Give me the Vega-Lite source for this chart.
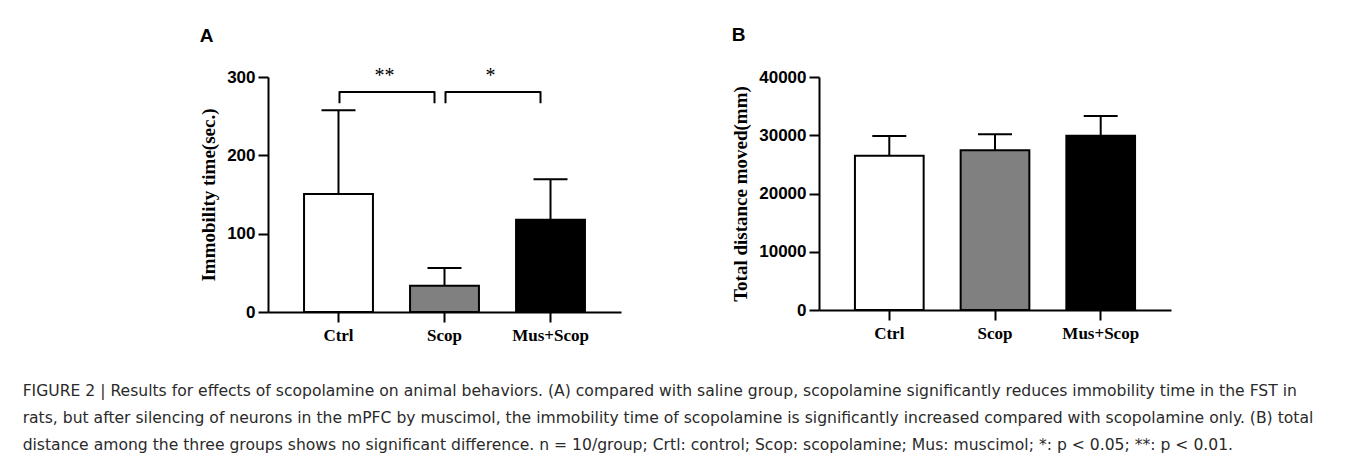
{
  "$schema": "https://vega.github.io/schema/vega-lite/v6.json",
  "background": "white",
  "padding": {"left": 22, "top": 26, "right": 5, "bottom": 5},
  "title": {
    "text": [
      "FIGURE 2 | Results for effects of scopolamine on animal behaviors. (A) compared with saline group, scopolamine significantly reduces immobility time in the FST in",
      "rats, but after silencing of neurons in the mPFC by muscimol, the immobility time of scopolamine is significantly increased compared with scopolamine only. (B) total",
      "distance among the three groups shows no significant difference. n = 10/group; Crtl: control; Scop: scopolamine; Mus: muscimol; *: p < 0.05; **: p < 0.01."
    ],
    "orient": "bottom",
    "anchor": "start",
    "frame": "bounds",
    "dx": -177,
    "offset": 41,
    "font": "DejaVu Sans",
    "fontSize": 15.6,
    "fontWeight": "normal",
    "lineHeight": 27,
    "color": "#2a2a2a"
  },
  "spacing": 110,
  "hconcat": [
    {
      "width": 353,
      "height": 235,
      "title": {"text": "A", "anchor": "start", "frame": "bounds", "font": "Liberation Sans", "fontSize": 19, "fontWeight": "bold", "offset": 20, "color": "black"},
      "layer": [
        {
          "data": {"values": [
            {"group": "Ctrl", "mean": 150.6, "upper": 257.5},
            {"group": "Scop", "mean": 33.6, "upper": 56.2},
            {"group": "Mus+Scop", "mean": 117.8, "upper": 169.4}
          ]},
          "layer": [
            {
              "mark": {"type": "bar", "stroke": "black", "strokeWidth": 2},
              "encoding": {
                "x": {"field": "group", "type": "nominal", "scale": {"domain": ["Ctrl", "Scop", "Mus+Scop"], "paddingInner": 0.35, "paddingOuter": 0.34}, "axis": {"title": null}},
                "y": {"field": "mean", "type": "quantitative", "scale": {"domain": [0, 300], "nice": false}, "title": "Immobility time(sec.)", "axis": {"values": [0, 100, 200, 300]}},
                "fill": {"field": "group", "type": "nominal", "scale": {"domain": ["Ctrl", "Scop", "Mus+Scop"], "range": ["#ffffff", "#808080", "#000000"]}, "legend": null}
              }
            },
            {
              "mark": {"type": "rule", "strokeWidth": 2, "color": "black"},
              "encoding": {
                "x": {"field": "group", "type": "nominal"},
                "y": {"field": "mean", "type": "quantitative", "title": "Immobility time(sec.)"},
                "y2": {"field": "upper"}
              }
            },
            {
              "mark": {"type": "tick", "orient": "horizontal", "size": 34, "thickness": 2, "color": "black", "opacity": 1},
              "encoding": {
                "x": {"field": "group", "type": "nominal"},
                "y": {"field": "upper", "type": "quantitative", "title": "Immobility time(sec.)"}
              }
            }
          ]
        },
        {
          "data": {"values": [
            {"from": "Ctrl", "to": "Scop", "label": "**"},
            {"from": "Scop", "to": "Mus+Scop", "label": "*"}
          ]},
          "layer": [
            {
              "mark": {"type": "rule", "strokeWidth": 2, "color": "black", "xOffset": 1, "x2Offset": -10},
              "encoding": {
                "x": {"field": "from", "type": "nominal"},
                "x2": {"field": "to"},
                "y": {"datum": 281, "type": "quantitative", "title": "Immobility time(sec.)"}
              }
            },
            {
              "mark": {"type": "rule", "strokeWidth": 2, "color": "black", "xOffset": 1},
              "encoding": {
                "x": {"field": "from", "type": "nominal"},
                "y": {"datum": 266.5, "type": "quantitative", "title": "Immobility time(sec.)"},
                "y2": {"datum": 281.8}
              }
            },
            {
              "mark": {"type": "rule", "strokeWidth": 2, "color": "black", "xOffset": -10},
              "encoding": {
                "x": {"field": "to", "type": "nominal"},
                "y": {"datum": 266.5, "type": "quantitative", "title": "Immobility time(sec.)"},
                "y2": {"datum": 281.8}
              }
            },
            {
              "mark": {"type": "text", "font": "Liberation Serif", "fontSize": 20, "baseline": "alphabetic", "align": "center", "xOffset": 46, "color": "black"},
              "encoding": {
                "x": {"field": "from", "type": "nominal"},
                "y": {"datum": 294, "type": "quantitative", "title": "Immobility time(sec.)"},
                "text": {"field": "label"}
              }
            }
          ]
        }
      ]
    },
    {
      "width": 352,
      "height": 233,
      "title": {"text": "B", "anchor": "start", "frame": "bounds", "font": "Liberation Sans", "fontSize": 19, "fontWeight": "bold", "offset": 23, "color": "black"},
      "data": {"values": [
        {"group": "Ctrl", "mean": 26490, "upper": 29870},
        {"group": "Scop", "mean": 27415, "upper": 30160},
        {"group": "Mus+Scop", "mean": 29925, "upper": 33305}
      ]},
      "encoding": {
        "x": {"field": "group", "type": "nominal", "scale": {"domain": ["Ctrl", "Scop", "Mus+Scop"], "paddingInner": 0.35, "paddingOuter": 0.34}, "axis": {"title": null}}
      },
      "layer": [
        {
          "mark": {"type": "bar", "stroke": "black", "strokeWidth": 2},
          "encoding": {
            "y": {"field": "mean", "type": "quantitative", "scale": {"domain": [0, 40000], "nice": false}, "title": "Total distance moved(mm)", "axis": {"values": [0, 10000, 20000, 30000, 40000], "format": "d"}},
            "fill": {"field": "group", "type": "nominal", "scale": {"domain": ["Ctrl", "Scop", "Mus+Scop"], "range": ["#ffffff", "#808080", "#000000"]}, "legend": null}
          }
        },
        {
          "mark": {"type": "rule", "strokeWidth": 2, "color": "black"},
          "encoding": {
            "y": {"field": "mean", "type": "quantitative", "title": "Total distance moved(mm)"},
            "y2": {"field": "upper"}
          }
        },
        {
          "mark": {"type": "tick", "orient": "horizontal", "size": 34, "thickness": 2, "color": "black", "opacity": 1},
          "encoding": {
            "y": {"field": "upper", "type": "quantitative", "title": "Total distance moved(mm)"}
          }
        }
      ]
    }
  ],
  "config": {
    "view": {"stroke": null},
    "axis": {
      "grid": false,
      "domainColor": "black",
      "domainWidth": 2,
      "tickColor": "black",
      "tickWidth": 2,
      "tickSize": 10,
      "labelColor": "black",
      "titleColor": "black"
    },
    "axisX": {
      "labelFont": "Liberation Serif",
      "labelFontWeight": "bold",
      "labelFontSize": 17,
      "labelAngle": 0,
      "labelPadding": 5
    },
    "axisY": {
      "labelFont": "Liberation Sans",
      "labelFontWeight": "bold",
      "labelFontSize": 17,
      "labelPadding": 3,
      "titleFont": "Liberation Serif",
      "titleFontWeight": "bold",
      "titleFontSize": 19,
      "titlePadding": 8
    }
  }
}
